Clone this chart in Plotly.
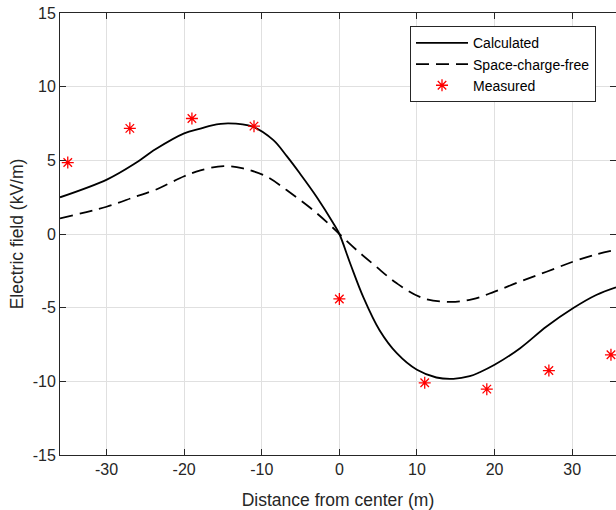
import plotly.graph_objects as go

# ---- data ----
calc_x = [-36, -29.9, -26.3, -23.7, -20, -17.9, -16.4, -14.3, -11.1, -8.5, -6.8, -5.1,
          -2.9, -0.8, 0, 1.4, 3.1, 5.2, 7.4, 10, 12.5, 14.7, 16.8,
          18.1, 20, 23.3, 26.7, 30.1, 33.1, 35.65]
calc_y = [2.49, 3.71, 4.8, 5.75, 6.83, 7.15, 7.38, 7.51, 7.27, 6.37, 5.3, 4.12,
          2.5, 0.75, 0, -2.0, -4.3, -6.55, -8.09, -9.22, -9.74, -9.83, -9.65,
          -9.38, -8.88, -7.75, -6.28, -5.04, -4.14, -3.62]

scf_x = [-36, -30, -26.3, -23.7, -20, -17.9, -14.9, -12.4, -9.3, -6.8, -3.8,
         -1.2, 0, 2.2, 4.6, 7.4, 10.8, 14.3, 17.2, 20, 23.3,
         26.7, 30.1, 33.1, 35.65]
scf_y = [1.06, 1.85, 2.53, 3.0, 3.92, 4.32, 4.61, 4.45, 3.88, 2.98, 1.8,
         0.61, 0, -1.08, -2.15, -3.35, -4.36, -4.61, -4.42, -3.91, -3.23,
         -2.56, -1.88, -1.38, -1.08]

meas_x = [-35, -27, -19, -11, 0, 11, 19, 27, 35]
meas_y = [4.85, 7.17, 7.84, 7.32, -4.41, -10.1, -10.53, -9.27, -8.2]

x_ticks = [-30, -20, -10, 0, 10, 20, 30]
x_labels = ["-30", "-20", "-10", "0", "10", "20", "30"]
y_ticks = [-15, -10, -5, 0, 5, 10, 15]
y_labels = ["-15", "-10", "-5", "0", "5", "10", "15"]
x_range = [-36, 35.65]
y_range = [-15, 15]

AX = "#262626"
GRID = "#e0e0e0"
FONT = "Liberation Sans, Arial, Helvetica, sans-serif"

fig = go.Figure()
fig.add_trace(go.Scatter(x=calc_x, y=calc_y, mode="lines", name="Calculated",
                         line=dict(color="black", width=1.8, shape="spline", smoothing=1.0)))
fig.add_trace(go.Scatter(x=scf_x, y=scf_y, mode="lines", name="Space-charge-free",
                         line=dict(color="black", width=1.8, dash="13px,7px",
                                   shape="spline", smoothing=1.0)))
fig.add_trace(go.Scatter(x=meas_x, y=meas_y, mode="markers", name="Measured",
                         cliponaxis=False,
                         marker=dict(symbol="asterisk-open", size=10, color="red",
                                     line=dict(color="red", width=1.3))))
# dummy trace so that the right-hand tick axis is drawn
fig.add_trace(go.Scatter(x=[None], y=[None], yaxis="y2", showlegend=False,
                         hoverinfo="skip", mode="lines"))

fig.update_layout(
    width=616, height=510,
    margin=dict(l=60, r=0, t=13, b=55, autoexpand=False),
    paper_bgcolor="white", plot_bgcolor="white",
    font=dict(family=FONT, color=AX, size=16),
    showlegend=True,
    legend=dict(x=0.6295, y=0.97, xanchor="left", yanchor="top",
                bgcolor="white", bordercolor=AX, borderwidth=1,
                font=dict(size=14, color="black", family=FONT),
                itemwidth=52, tracegroupgap=0),
    xaxis=dict(range=x_range, tickvals=x_ticks, ticktext=x_labels, showgrid=True,
               gridcolor=GRID, automargin=False,
               gridwidth=1, zeroline=False, showline=True, linecolor=AX, linewidth=1,
               mirror="ticks", ticks="inside", ticklen=6, tickcolor=AX,
               tickfont=dict(size=16, color=AX),
               title=dict(text="Distance from center (m)", font=dict(size=17.5, color=AX),
                          standoff=16)),
    yaxis=dict(range=y_range, tickvals=y_ticks, ticktext=y_labels, showgrid=True,
               gridcolor=GRID, automargin=False,
               gridwidth=1, zeroline=False, showline=True, linecolor=AX, linewidth=1,
               ticks="inside", ticklen=6, tickcolor=AX,
               tickfont=dict(size=16, color=AX),
               title=dict(text="Electric field (kV/m)", font=dict(size=17.5, color=AX),
                          standoff=4)),
    yaxis2=dict(range=y_range, tickvals=y_ticks, overlaying="y", side="right",
                automargin=False,
                showgrid=False, zeroline=False, showline=False, ticks="inside",
                ticklen=6, tickcolor=AX, showticklabels=False),
)

fig.write_html("out.html",
               config={"displayModeBar": False},
               post_script="document.body.style.margin='0';document.body.style.padding='0';"
                           "document.documentElement.style.overflow='hidden';")
